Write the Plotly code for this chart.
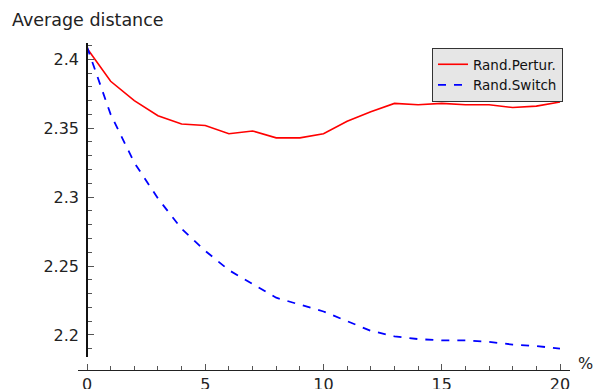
import plotly.graph_objects as go

percent = list(range(0, 21))
rand_pertur = [2.408, 2.384, 2.370, 2.359, 2.353, 2.352, 2.346, 2.348, 2.343, 2.343,
               2.346, 2.355, 2.362, 2.368, 2.367, 2.368, 2.367, 2.367, 2.365, 2.366, 2.369]
rand_switch = [2.409, 2.360, 2.325, 2.299, 2.277, 2.261, 2.247, 2.237, 2.227, 2.222,
               2.217, 2.210, 2.203, 2.199, 2.197, 2.196, 2.196, 2.195, 2.193, 2.192, 2.190]

x_major = [0, 5, 10, 15, 20]
x_minor = [v for v in range(0, 21) if v % 5 != 0]
y_major = [2.2, 2.25, 2.3, 2.35, 2.4]
y_minor = [round(2.19 + 0.01 * i, 2) for i in range(23)]
y_minor = [v for v in y_minor if round(v * 100) % 5 != 0]

W, H = 597, 389
L, R, T, B = 78, 27, 43, 19
pw, ph = W - L - R, H - T - B

fig = go.Figure()
fig.add_trace(go.Scatter(x=percent, y=rand_pertur, mode="lines", name="Rand.Pertur.",
                         line=dict(color="#ff0000", width=1.6)))
fig.add_trace(go.Scatter(x=percent, y=rand_switch, mode="lines", name="Rand.Switch",
                         line=dict(color="#0000ff", width=1.8, dash="8px,8px")))

fig.update_layout(
    width=W, height=H,
    margin=dict(l=L, r=R, t=T, b=B, autoexpand=False),
    paper_bgcolor="white", plot_bgcolor="white",
    font=dict(family="DejaVu Sans", color="#222222"),
    showlegend=True,
    legend=dict(x=(563 - L) / pw, y=1 - 5 / ph, xanchor="right", yanchor="top",
                bgcolor="#e6e6e6", bordercolor="#333333", borderwidth=1,
                font=dict(size=13.5, color="#111111"), tracegroupgap=0,
                itemwidth=30),
    xaxis=dict(range=[-9 / 23.65, 20 + 10 / 23.65], anchor="free", position=0,
               showgrid=False, zeroline=False, showline=True, linecolor="#222222", linewidth=1.3,
               tickmode="array", tickvals=x_major, ticktext=[str(v) for v in x_major],
               ticks="inside", ticklen=6, tickwidth=1, tickcolor="#555555",
               tickfont=dict(size=16, color="#222222"),
               minor=dict(tickmode="array", tickvals=x_minor, ticks="inside", ticklen=4,
                          tickwidth=1, tickcolor="#555555"),
               automargin=False),
    yaxis=dict(range=[2.184, 2.4118], domain=[13 / ph, 1], anchor="free", position=9 / pw,
               showgrid=False, zeroline=False, showline=True, linecolor="#111111", linewidth=1.5,
               tickmode="array", tickvals=y_major, ticktext=["2.2", "2.25", "2.3", "2.35", "2.4"],
               ticks="inside", ticklen=6, tickwidth=1, tickcolor="#555555",
               tickfont=dict(size=16, color="#222222"), ticklabelstandoff=4,
               minor=dict(tickmode="array", tickvals=y_minor, ticks="inside", ticklen=4,
                          tickwidth=1, tickcolor="#555555"),
               automargin=False),
    annotations=[
        dict(text="Average distance", xref="paper", yref="paper",
             x=(10 - L) / pw, y=1 + (T - 20) / ph, xanchor="left", yanchor="middle",
             showarrow=False, font=dict(size=17.5, color="#222222")),
        dict(text="%", xref="paper", yref="paper",
             x=(585 - L) / pw, y=(370 - 363) / ph, xanchor="center", yanchor="middle",
             showarrow=False, font=dict(size=16, color="#222222")),
    ],
)

fig.write_html("out.html")
